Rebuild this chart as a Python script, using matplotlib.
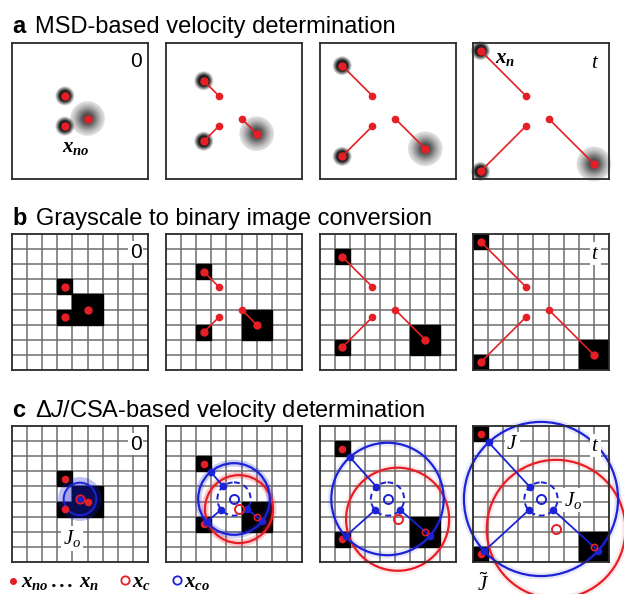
import numpy as np
import matplotlib
matplotlib.use('Agg')
import matplotlib.pyplot as plt
from matplotlib.patches import Circle, Rectangle

plt.rcParams['font.family'] = ['Liberation Sans', 'DejaVu Sans']
plt.rcParams['mathtext.fontset'] = 'custom'
plt.rcParams['mathtext.rm'] = 'Liberation Sans'
plt.rcParams['mathtext.sf'] = 'Liberation Sans:italic'
plt.rcParams['mathtext.it'] = 'Liberation Serif:italic'
plt.rcParams['mathtext.bf'] = 'Liberation Serif:italic:bold'

RED = '#e61e25'
BLUE = '#1c22d6'
GRID = '#6e6e6e'
FRAME = '#2a2a2a'

# particle centres per time step (grid units, y pointing down)
top_x = [3.5, 2.5, 1.5, 0.5]
top_y = [3.5, 2.5, 1.5, 0.5]
bot_x = [3.5, 2.5, 1.5, 0.5]
bot_y = [5.5, 6.5, 7.5, 8.5]
big_x = [5.0, 6.0, 7.0, 8.0]
big_y = [5.0, 6.0, 7.0, 8.0]
time_labels = ['0', '', '', '$t$']

# area-weighted centroid x_c, fixed initial centroid x_co
xc_x = [4.5, 4.83, 5.17, 5.5]
xc_y = [4.83, 5.5, 6.17, 6.83]
xco_x, xco_y = 4.5, 4.83
J_r = [1.08, 2.37, 3.72, 5.1]       # blue circle J
Jt_r = [1.08, 2.25, 3.41, 4.59]     # red circle J~
Jo_r = 1.1                          # dashed circle J_o

W, H = 624, 594
fig = plt.figure(figsize=(W / 100, H / 100), dpi=100)

lefts = [12, 166, 319.5, 473]
tops = [43, 234, 426]
SIZE = 136


def make_ax(row, col):
    ax = fig.add_axes([lefts[col] / W, 1 - (tops[row] + SIZE) / H, SIZE / W, SIZE / H])
    ax.set_xlim(0, 9)
    ax.set_ylim(9, 0)
    ax.set_xticks([])
    ax.set_yticks([])
    for s in ax.spines.values():
        s.set_color(FRAME)
        s.set_linewidth(1.3)
        s.set_zorder(6)
    return ax


def draw_grid(ax):
    for k in range(1, 9):
        ax.plot([k, k], [0, 9], color=GRID, lw=1.1, zorder=1)
        ax.plot([0, 9], [k, k], color=GRID, lw=1.1, zorder=1)


def blob(ax, x, y, R, profile, color):
    # radial gradient built from stacked translucent discs
    n = 40
    radii = np.linspace(R, R / n, n)
    T_prev = 1.0
    for r in radii:
        T = 1 - profile(r)
        a = 1 - T / T_prev
        T_prev = T
        ax.add_patch(Circle((x, y), r, color=color, alpha=max(a, 0), lw=0,
                            zorder=2, clip_on=False))


def small_prof(r):
    if r < 0.36:
        return 0.95
    return 0.95 * max(0.0, 1 - (r - 0.36) / 0.3)


def big_prof(r):
    return 0.86 * np.exp(-(r / 0.82) ** 2)


def cells(ax, i):
    ax.add_patch(Rectangle((top_x[i] - 0.5, top_y[i] - 0.5), 1, 1, color='black', zorder=2))
    ax.add_patch(Rectangle((bot_x[i] - 0.5, bot_y[i] - 0.5), 1, 1, color='black', zorder=2))
    ax.add_patch(Rectangle((big_x[i] - 1, big_y[i] - 1), 2, 2, color='black', zorder=2))


def tracks(ax, i):
    if i > 0:
        for xs, ys in [(top_x, top_y), (bot_x, bot_y), (big_x, big_y)]:
            ax.plot([xs[0], xs[i]], [ys[0], ys[i]], color=RED, lw=1.2, zorder=3)
            ax.plot([xs[0]], [ys[0]], 'o', color=RED, ms=4.5, zorder=4)
    ax.plot([top_x[i], bot_x[i], big_x[i]], [top_y[i], bot_y[i], big_y[i]], 'o',
            color=RED, ms=5, ls='none', zorder=4, clip_on=False)


def time_label(ax, i, box):
    s = time_labels[i]
    if not s:
        return
    kw = dict(fontsize=15, ha='center', va='center', zorder=8)
    if box:
        kw['bbox'] = dict(boxstyle='square,pad=0.08', fc='white', ec='none')
    if s == '0':
        ax.text(8.2, 1.2, s, **kw)
    else:
        ax.text(8.1, 1.3, s, **kw)


# row a: grayscale particles
for i in range(4):
    ax = make_ax(0, i)
    blob(ax, top_x[i], top_y[i], 0.66, small_prof, '#151515')
    blob(ax, bot_x[i], bot_y[i], 0.66, small_prof, '#151515')
    blob(ax, big_x[i], big_y[i], 1.15, big_prof, '#202020')
    tracks(ax, i)
    time_label(ax, i, False)
    if i == 0:
        ax.text(4.2, 6.9, r'$\mathbf{x}_{\mathbf{no}}$', fontsize=15, ha='center', va='center')
    if i == 3:
        ax.text(2.1, 1.0, r'$\mathbf{x}_{\mathbf{n}}$', fontsize=15, ha='center', va='center')

# row b: binary images
for i in range(4):
    ax = make_ax(1, i)
    draw_grid(ax)
    cells(ax, i)
    tracks(ax, i)
    time_label(ax, i, True)

# row c: circle fitting
for i in range(4):
    ax = make_ax(2, i)
    draw_grid(ax)
    cells(ax, i)
    if i == 0:
        ax.add_patch(Circle((xco_x, xco_y), 1.45, color=BLUE, alpha=0.28, lw=0, zorder=3))
        ax.add_patch(Circle((xco_x, xco_y), J_r[i], color=BLUE, alpha=0.18, lw=0, zorder=3))
        ax.add_patch(Circle((xco_x, xco_y), J_r[i], fc='none', ec=BLUE, lw=1.4, zorder=4))
        ax.plot([top_x[i], bot_x[i], big_x[i]], [top_y[i], bot_y[i], big_y[i]], 'o',
                color=RED, ms=4.5, ls='none', zorder=4)
        ax.plot([xco_x], [xco_y], 'o', color=BLUE, ms=3, zorder=5)
        ax.plot([xc_x[i]], [xc_y[i]], 'o', mfc='none', mec=RED, mew=1.3, ms=6, zorder=5)
        ax.text(3.96, 7.45, r'$J_o$', fontsize=15, ha='center', va='center', zorder=8,
                bbox=dict(boxstyle='square,pad=0.1', fc='white', ec='none'))
    else:
        glow = 0.22 if i == 1 else 0.1
        for (cx, cy, r, c) in [(xc_x[i], xc_y[i], Jt_r[i], RED), (xco_x, xco_y, J_r[i], BLUE)]:
            ax.add_patch(Circle((cx, cy), r, fc='none', ec=c, lw=5, alpha=glow,
                                zorder=3, clip_on=False))
            ax.add_patch(Circle((cx, cy), r, fc='none', ec=c, lw=1.6, zorder=4, clip_on=False))
        ax.add_patch(Circle((xco_x, xco_y), Jo_r, fc='none', ec=BLUE, lw=1.4, ls=(0, (3, 2)),
                            zorder=4))
        for px, py in [(top_x[i], top_y[i]), (bot_x[i], bot_y[i]), (big_x[i], big_y[i])]:
            d = np.array([px - xco_x, py - xco_y])
            u = d / np.hypot(*d)
            p0 = (xco_x + Jo_r * u[0], xco_y + Jo_r * u[1])
            p1 = (xco_x + J_r[i] * u[0], xco_y + J_r[i] * u[1])
            ax.plot([p0[0], p1[0]], [p0[1], p1[1]], color=BLUE, lw=1.3, zorder=5)
            ax.plot([p0[0], p1[0]], [p0[1], p1[1]], 'o', color=BLUE, ms=4.5, ls='none', zorder=6)
        ax.plot([top_x[i], bot_x[i]], [top_y[i], bot_y[i]], 'o', color=RED, ms=4.5,
                ls='none', zorder=5)
        ax.plot([big_x[i]], [big_y[i]], 'o', mfc='none', mec=RED, mew=1.2, ms=4.5, zorder=6)
        ax.plot([xco_x], [xco_y], 'o', mfc='none', mec=BLUE, mew=1.4, ms=6.5, zorder=6)
        ax.plot([xc_x[i]], [xc_y[i]], 'o', mfc='none', mec=RED, mew=1.4, ms=6.5, zorder=6)
    time_label(ax, i, True)
    if i == 3:
        box = dict(boxstyle='square,pad=0.08', fc='white', ec='none')
        ax.text(2.6, 1.15, r'$J$', fontsize=15, ha='center', va='center', zorder=8, bbox=box)
        ax.text(6.6, 4.9, r'$J_o$', fontsize=15, ha='center', va='center', zorder=8, bbox=box)
        ax.text(0.66, 10.4, r'$\tilde{J}$', fontsize=15, ha='center', va='center', zorder=8)


# panel headings (pixel positions converted to figure fraction)
def fig_text(x, y, s, **kw):
    fig.text(x / W, 1 - y / H, s, va='baseline', **kw)


fig_text(12, 33, 'a', fontsize=17, fontweight='bold')
fig_text(35, 33, 'MSD-based velocity determination', fontsize=17)
fig_text(12, 225, 'b', fontsize=17, fontweight='bold')
fig_text(36, 225, 'Grayscale to binary image conversion', fontsize=17)
fig_text(12, 417, 'c', fontsize=17, fontweight='bold')
fig_text(35, 417, r'Δ$\mathsf{J}$/CSA-based velocity determination', fontsize=17)

# symbol key
key = fig.add_axes([0, 0, 1, 1], facecolor='none')
key.set_xlim(0, W)
key.set_ylim(H, 0)
key.axis('off')
key.plot([13], [581], 'o', color=RED, ms=4)
key.plot([125], [580], 'o', mfc='none', mec=RED, mew=1.3, ms=6)
key.plot([177], [580], 'o', mfc='none', mec=BLUE, mew=1.3, ms=6)
key.text(21, 587, r'$\mathbf{x}_{\mathbf{no}}\:\mathbf{...}\:\mathbf{x}_{\mathbf{n}}$',
         fontsize=15, va='baseline')
key.text(132, 587, r'$\mathbf{x}_{\mathbf{c}}$', fontsize=15, va='baseline')
key.text(184, 587, r'$\mathbf{x}_{\mathbf{co}}$', fontsize=15, va='baseline')

fig.savefig('out.png', dpi=100)
